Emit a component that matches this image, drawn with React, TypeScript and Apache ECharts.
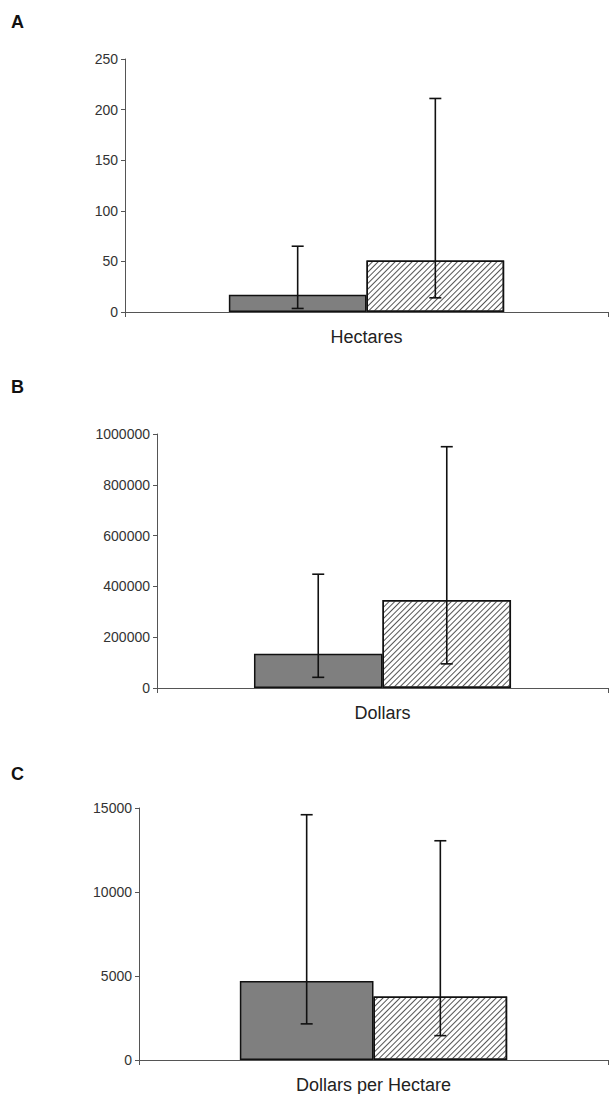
import React, { useEffect, useRef } from "react";
import * as echarts from "echarts";

const panelLetters = ["A", "B", "C"];
const categoriesA = ["Hectares"];
const categoriesB = ["Dollars"];
const categoriesC = ["Dollars per Hectare"];

const meanA = [17, 51];
const lowA = [3.5, 14];
const highA = [65, 211];

const meanB = [135000, 346000];
const lowB = [42000, 95000];
const highB = [448000, 950000];

const meanC = [4700, 3775];
const lowC = [2150, 1450];
const highC = [14600, 13050];

const yMax = [250, 1000000, 15000];
const yInterval = [50, 200000, 5000];

const GAP = 0.43;

export default function App() {
  const ref = useRef<HTMLDivElement>(null);
  useEffect(() => {
    if (!ref.current) return;
    const chart = echarts.init(ref.current, undefined, { renderer: "svg" });
    const grids = [
      { left: 125, top: 59, width: 483, height: 253 },
      { left: 157, top: 434, width: 451, height: 254 },
      { left: 139, top: 808, width: 469, height: 253 },
    ];
    const cats = [categoriesA, categoriesB, categoriesC];
    const means = [meanA, meanB, meanC];
    const lows = [lowA, lowB, lowC];
    const highs = [highA, highB, highC];
    const letterY = [23, 388, 775];

    const xAxis: any[] = [];
    const yAxis: any[] = [];
    const series: any[] = [];
    for (let i = 0; i < 3; i++) {
      xAxis.push({
        type: "category",
        gridIndex: i,
        data: cats[i],
        axisLine: { lineStyle: { color: "#555", width: 1 } },
        axisTick: { show: true, length: 5, lineStyle: { color: "#555" } },
        axisLabel: {
          fontSize: 18,
          color: "#222",
          margin: 16,
          fontFamily: "Liberation Sans, Arial, sans-serif",
        },
      });
      yAxis.push({
        type: "value",
        gridIndex: i,
        min: 0,
        max: yMax[i],
        interval: yInterval[i],
        splitLine: { show: false },
        axisLine: { show: true, lineStyle: { color: "#555", width: 1 } },
        axisTick: { show: true, length: 4, lineStyle: { color: "#555" } },
        axisLabel: {
          fontSize: 14,
          color: "#333",
          margin: 7,
          fontFamily: "Liberation Sans, Arial, sans-serif",
          formatter: (v: number) => String(v),
        },
      });
      series.push({
        type: "bar",
        xAxisIndex: i,
        yAxisIndex: i,
        data: [means[i][0]],
        barGap: "0%",
        barCategoryGap: GAP * 100 + "%",
        itemStyle: { color: "#7f7f7f", borderColor: "#111", borderWidth: 1.5 },
      });
      series.push({
        type: "bar",
        xAxisIndex: i,
        yAxisIndex: i,
        data: [means[i][1]],
        barGap: "0%",
        barCategoryGap: GAP * 100 + "%",
        itemStyle: {
          color: "#ffffff",
          borderColor: "#111",
          borderWidth: 1.5,
          decal: {
            symbol: "rect",
            symbolSize: 1,
            dashArrayX: [[1, 0]],
            dashArrayY: [1, 2.2],
            rotation: -Math.PI / 4,
            color: "#555",
            backgroundColor: "#ffffff",
          },
        },
      });
      const errData = [0, 1].map((k) => [k, lows[i][k], highs[i][k]]);
      series.push({
        type: "custom",
        xAxisIndex: i,
        yAxisIndex: i,
        data: errData,
        encode: { y: [1, 2] },
        z: 10,
        renderItem: (params: any, api: any) => {
          const k = api.value(0);
          const lo = api.coord([0, api.value(1)]);
          const hi = api.coord([0, api.value(2)]);
          const band = api.size([1, 0])[0];
          const barW = (band * (1 - GAP)) / 2;
          const x = lo[0] + (k === 0 ? -barW / 2 : barW / 2);
          const cap = 6;
          const st = { stroke: "#111", lineWidth: 1.6 };
          return {
            type: "group",
            children: [
              { type: "line", shape: { x1: x, y1: lo[1], x2: x, y2: hi[1] }, style: st },
              { type: "line", shape: { x1: x - cap, y1: lo[1], x2: x + cap, y2: lo[1] }, style: st },
              { type: "line", shape: { x1: x - cap, y1: hi[1], x2: x + cap, y2: hi[1] }, style: st },
            ],
          };
        },
      });
    }

    chart.setOption({
      animation: false,
      backgroundColor: "#ffffff",
      grid: grids,
      xAxis,
      yAxis,
      series,
      graphic: panelLetters.map((t, i) => ({
        type: "text",
        left: 11,
        top: letterY[i] - 10,
        style: {
          text: t,
          fontSize: 18,
          fontWeight: "bold",
          fill: "#111",
          fontFamily: "Liberation Sans, Arial, sans-serif",
        },
      })),
    });
    return () => chart.dispose();
  }, []);
  return (
    <div
      ref={ref}
      style={{ position: "absolute", left: 0, top: 0, width: 609, height: 1094 }}
    />
  );
}
